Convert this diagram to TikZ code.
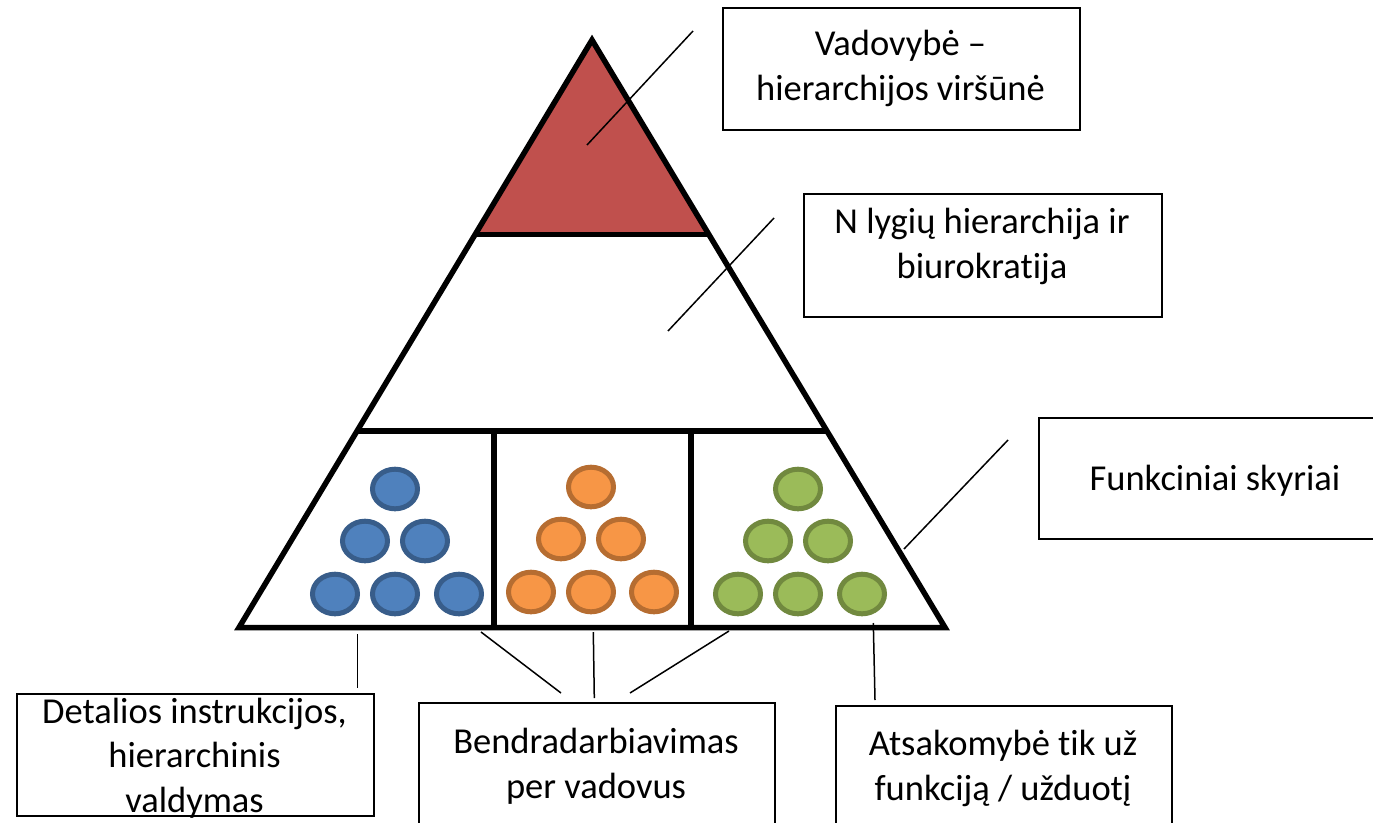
\documentclass[tikz,border=0pt]{standalone}
\usepackage{fontspec}
\setmainfont{Carlito}[Ligatures={NoCommon}]
\definecolor{redfill}{HTML}{C0504D}
\definecolor{bluefill}{HTML}{4F81BD}
\definecolor{blueline}{HTML}{385D8A}
\definecolor{orangefill}{HTML}{F79646}
\definecolor{orangeline}{HTML}{B66D31}
\definecolor{greenfill}{HTML}{9BBB59}
\definecolor{greenline}{HTML}{71893F}
\tikzset{
  tri/.style={line width=5.5, line join=miter},
  box/.style={draw, line width=1.5, inner sep=0, anchor=north west},
  lead/.style={line width=1.5},
  txt/.style={font=\fontsize{36.5}{44.5}\selectfont, align=center, anchor=base, inner sep=0},
  bluedot/.style={fill=bluefill, draw=blueline, line width=5},
  orangedot/.style={fill=orangefill, draw=orangeline, line width=5},
  greendot/.style={fill=greenfill, draw=greenline, line width=5}
}
\begin{document}
\begin{tikzpicture}[x=1pt,y=-1pt]
\useasboundingbox (0,0) rectangle (1373,822);
% pyramid
\coordinate (A) at (592,40);
\coordinate (BL) at (239,627.5);
\coordinate (BR) at (945,627.5);
\coordinate (R1) at (475,234.7);
\coordinate (R2) at (709,234.7);
\coordinate (M1) at (357.1,431);
\coordinate (M2) at (826.9,431);
\coordinate (D1t) at (494,431);
\coordinate (D1b) at (494,627.5);
\coordinate (D2t) at (691,431);
\coordinate (D2b) at (691,627.5);
\fill[redfill] (A) -- (R1) -- (R2) -- cycle;
\draw[tri] (R1) -- (R2);
\draw[tri] (M1) -- (M2);
\draw[tri] (D1t) -- (D1b);
\draw[tri] (D2t) -- (D2b);
\draw[tri] (A) -- (BL) -- (BR) -- cycle;
% dots
\foreach \px/\py in {395/489, 365/541, 425/541, 335/594, 395/594, 459/594}
  \draw[bluedot] (\px,\py) ellipse [x radius=22.5, y radius=19.8];
\foreach \px/\py in {591/487, 561/539, 621/539, 531/592, 591/592, 654/592}
  \draw[orangedot] (\px,\py) ellipse [x radius=22.5, y radius=19.8];
\foreach \px/\py in {798/489, 768/541, 828/541, 738/594, 798/594, 862/594}
  \draw[greendot] (\px,\py) ellipse [x radius=22.5, y radius=19.8];
% boxes
\node[box, minimum width=357, minimum height=122] (b1) at (722,7) {};
\node[box, minimum width=358, minimum height=123] (b2) at (803,193) {};
\node[box, minimum width=354, minimum height=121] (b3) at (1038,417) {};
\node[box, minimum width=357, minimum height=122] (b4) at (16,693) {};
\node[box, minimum width=356, minimum height=130] (b5) at (418,702) {};
\node[box, minimum width=336, minimum height=130] (b6) at (835,705) {};
% texts (base = baseline of last line)
\node[txt] (t1) at (900.5,100) {Vadovybė –\\hierarchijos viršūnė};
\node[txt] (t2) at (982,278) {N lygių hierarchija ir\\biurokratija};
\node[txt] (t3) at (1215,490) {Funkciniai skyriai};
\node[txt] (t4) at (194.5,812) {Detalios instrukcijos,\\hierarchinis\\valdymas};
\node[txt] (t5) at (596,798) {Bendradarbiavimas\\per vadovus};
\node[txt] (t6) at (1003,800) {Atsakomybė tik už\\funkciją / užduotį};
% leaders
\coordinate (l1a) at (587,145); \coordinate (l1b) at (693,31);
\coordinate (l2a) at (668,331); \coordinate (l2b) at (774,218);
\coordinate (l3a) at (904,549); \coordinate (l3b) at (1008,440);
\coordinate (l4a) at (357.5,634); \coordinate (l4b) at (357.5,688);
\coordinate (l5a) at (481,632); \coordinate (l5b) at (561,693);
\coordinate (l6a) at (593.3,632); \coordinate (l6b) at (594.3,698);
\coordinate (l7a) at (729,631); \coordinate (l7b) at (630,693);
\coordinate (l8a) at (873.3,623); \coordinate (l8b) at (875,700);
\draw[lead] (l1a) -- (l1b);
\draw[lead] (l2a) -- (l2b);
\draw[lead] (l3a) -- (l3b);
\draw[lead] (l4a) -- (l4b);
\draw[lead] (l5a) -- (l5b);
\draw[lead] (l6a) -- (l6b);
\draw[lead] (l7a) -- (l7b);
\draw[lead] (l8a) -- (l8b);
\end{tikzpicture}
\end{document}
